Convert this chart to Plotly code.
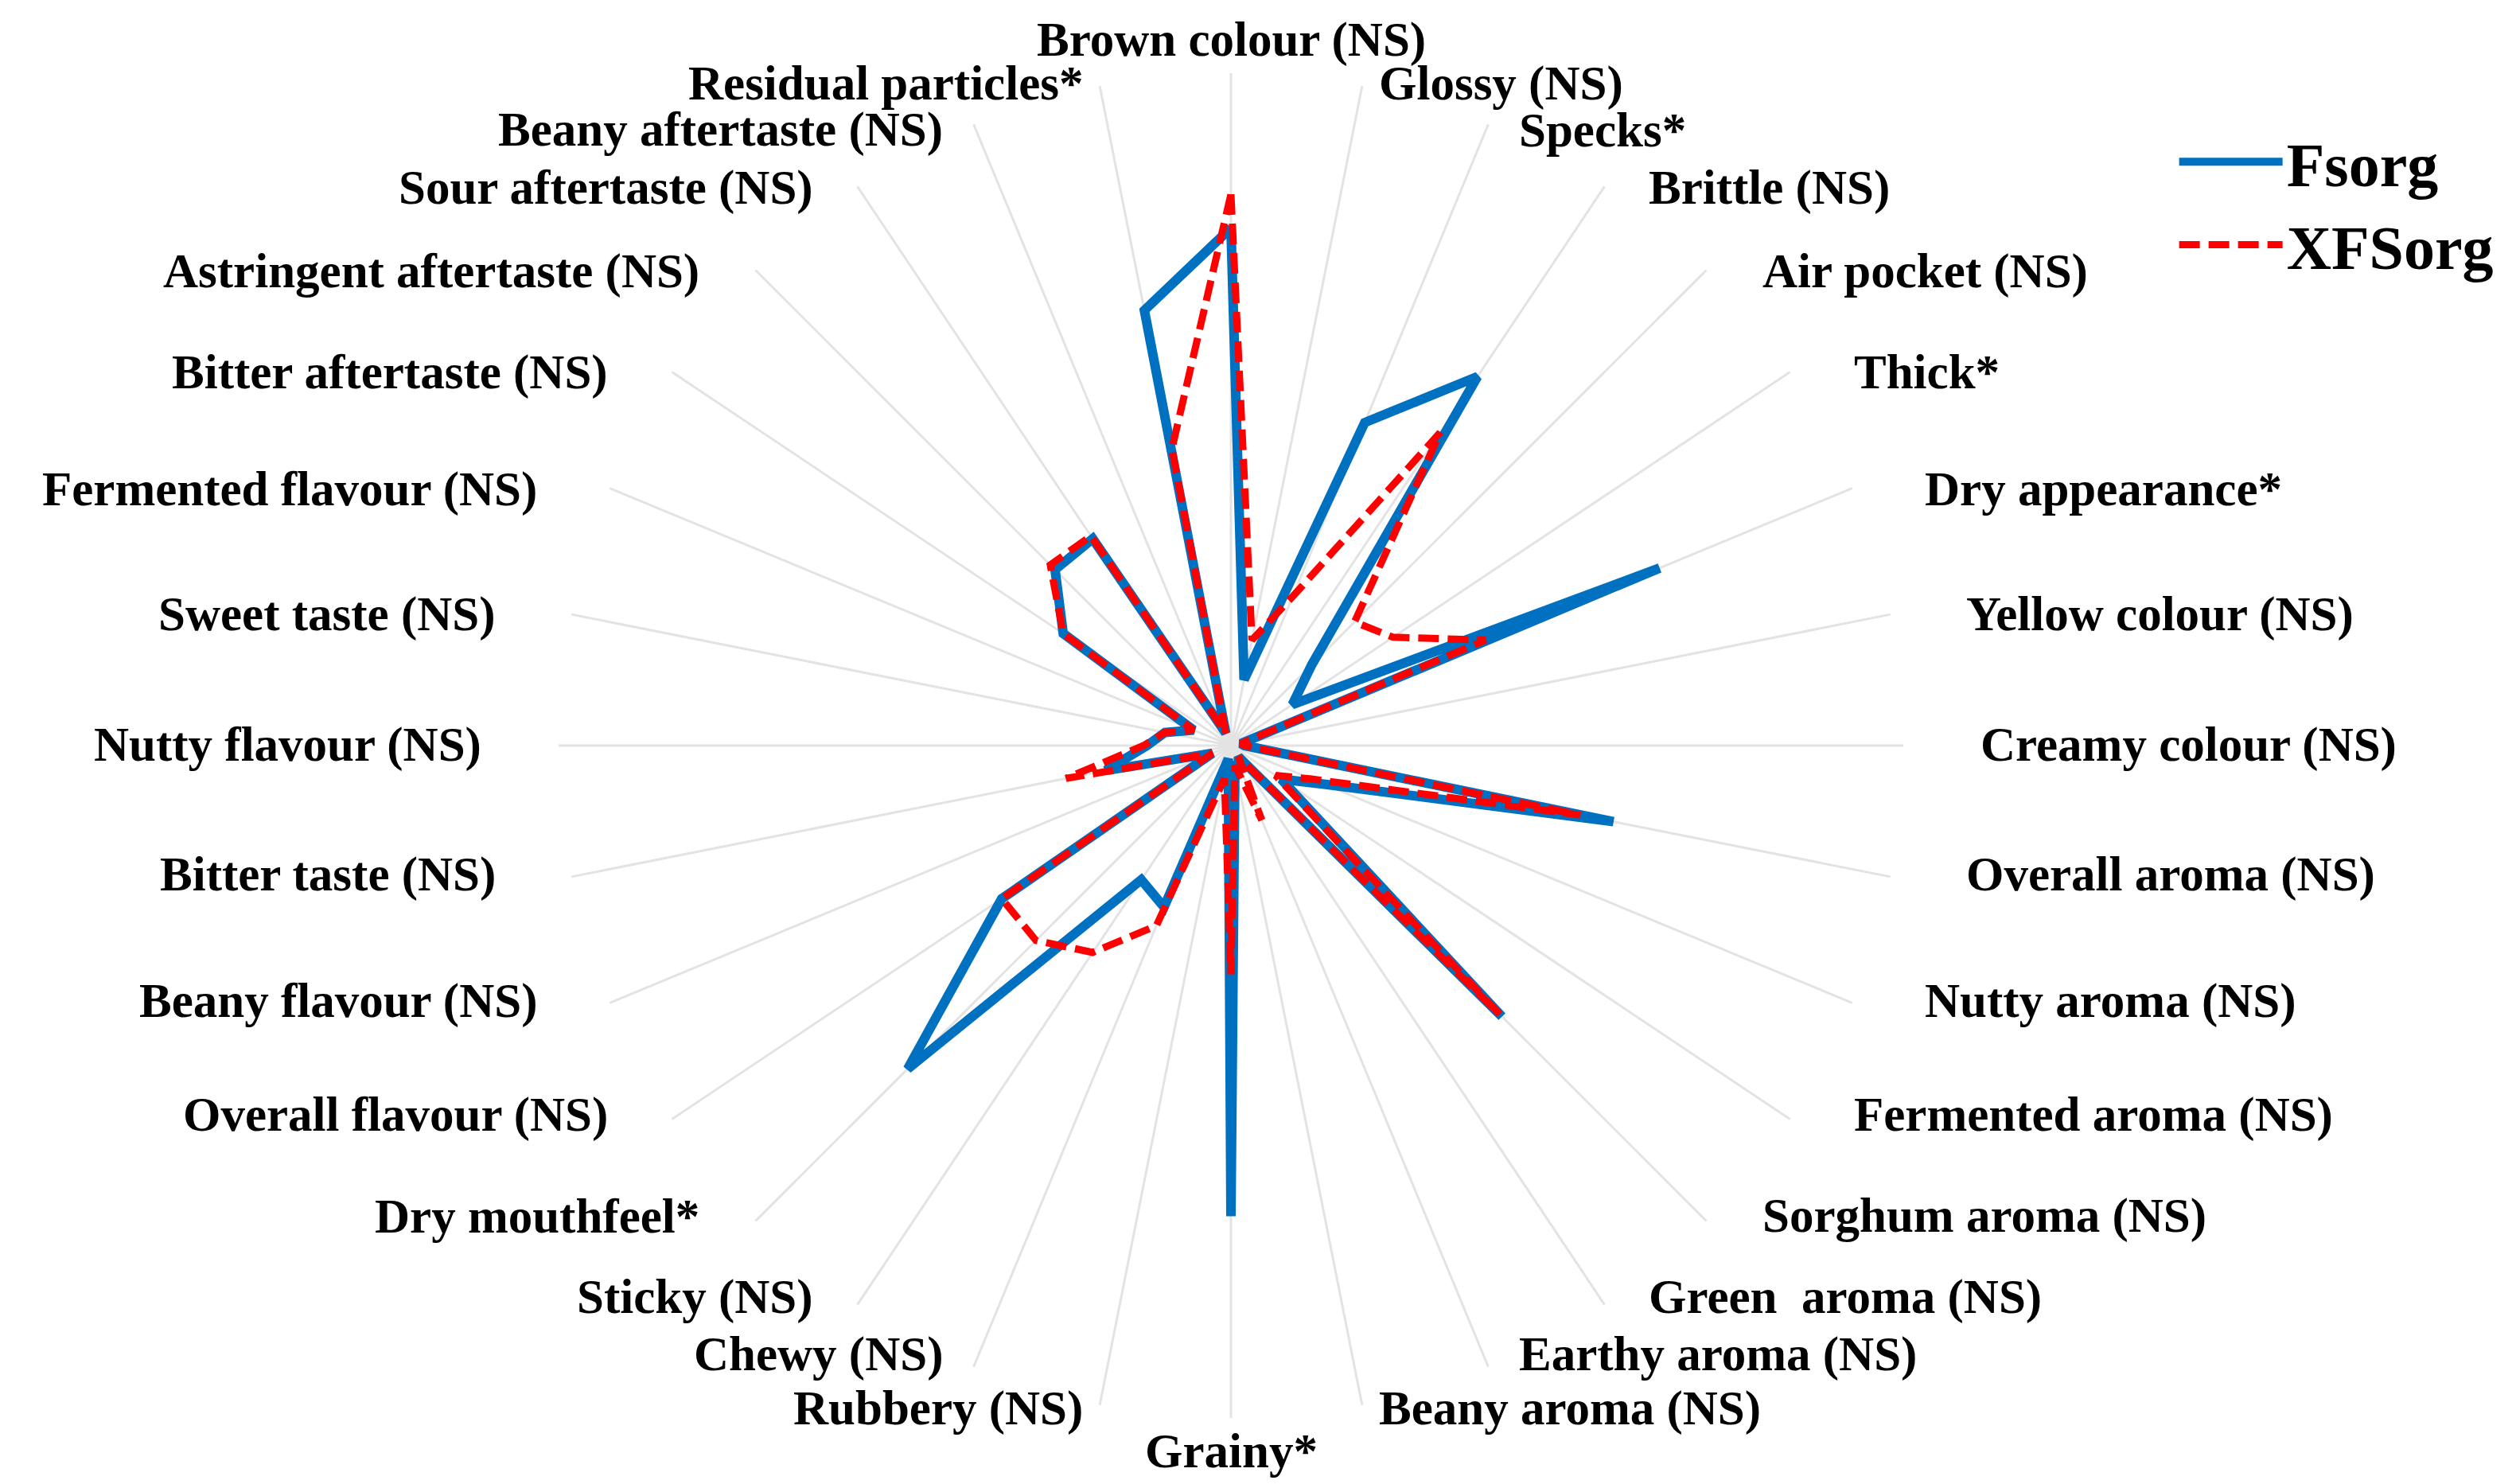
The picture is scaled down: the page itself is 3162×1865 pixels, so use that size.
import plotly.graph_objects as go

categories = [
    "Brown colour (NS)", "Glossy (NS)", "Specks*", "Brittle (NS)", "Air pocket (NS)",
    "Thick*", "Dry appearance*", "Yellow colour (NS)", "Creamy colour (NS)",
    "Overall aroma (NS)", "Nutty aroma (NS)", "Fermented aroma (NS)", "Sorghum aroma (NS)",
    "Green  aroma (NS)", "Earthy aroma (NS)", "Beany aroma (NS)", "Grainy*", "Rubbery (NS)",
    "Chewy (NS)", "Sticky (NS)", "Dry mouthfeel*", "Overall flavour (NS)", "Beany flavour (NS)",
    "Bitter taste (NS)", "Nutty flavour (NS)", "Sweet taste (NS)", "Fermented flavour (NS)",
    "Bitter aftertaste (NS)", "Astringent aftertaste (NS)", "Sour aftertaste (NS)",
    "Beany aftertaste (NS)", "Residual particles*",
]

fsorg = [7.7, 1.0, 5.2, 6.6, 1.7, 1.1, 6.9, 0.15, 0.2, 5.8, 1.5, 0.9, 5.7, 0.2, 0.3, 0.3,
         7.0, 0.2, 2.6, 2.4, 6.8, 4.1, 0.3, 1.9, 1.25, 1.0, 0.6, 3.0, 3.7, 3.7, 0.2, 6.6]
xfsorg = [8.2, 1.6, 2.4, 5.6, 2.6, 2.9, 4.1, 0.15, 0.2, 5.3, 1.3, 0.8, 5.65, 0.2, 1.2, 0.3,
          3.4, 0.5, 2.9, 3.7, 4.1, 4.1, 0.3, 2.5, 1.3, 1.0, 0.6, 3.0, 3.8, 3.75, 0.2, 4.5]

series_names = ["Fsorg", "XFSorg"]

# ---- layout (pixels of the 3162x1865 page) ----
W, H = 3162, 1865
cx, cy, R = 1539, 929, 845

# Category label placement (layout only): horizontal offset of the label's inner
# edge from the chart centre, and vertical pixel position, for the right half
# (Brown colour .. Grainy*); the left half mirrors it.
right_dx = [0, 185, 361, 524, 667, 782, 871, 923, 941, 923, 871, 782, 667, 524, 361, 185, 0]
right_y = [42, 97, 155, 228, 333, 460, 607, 764, 928, 1091, 1250, 1393, 1520, 1622, 1694, 1762, 1815]

fig = go.Figure()
fig.add_trace(go.Scatterpolar(
    r=fsorg + fsorg[:1], theta=categories + categories[:1],
    mode="lines", name=series_names[0],
    line=dict(color="#0070C0", width=12),
))
fig.add_trace(go.Scatterpolar(
    r=xfsorg + xfsorg[:1], theta=categories + categories[:1],
    mode="lines", name=series_names[1],
    line=dict(color="#FF0000", width=9, dash="26px,11px"),
))

label_font = dict(family="Liberation Serif", size=61, color="black", weight="bold")
annotations = []
n = len(categories)
for i, name in enumerate(categories):
    if i <= n // 2:
        dx, y = right_dx[i], right_y[i]
        side = 1
    else:
        j = n - i
        dx, y = right_dx[j], right_y[j]
        side = -1
    if dx == 0:
        xanchor, x = "center", cx
    elif side == 1:
        xanchor, x = "left", cx + dx
    else:
        xanchor, x = "right", cx - dx
    annotations.append(dict(
        text=name, x=x / W, y=1 - y / H, xref="paper", yref="paper",
        xanchor=xanchor, yanchor="middle", showarrow=False, font=label_font,
        borderpad=0,
    ))

fig.update_layout(
    width=W, height=H, autosize=False,
    margin=dict(l=0, r=0, t=0, b=0),
    paper_bgcolor="white", plot_bgcolor="white",
    font=dict(family="Liberation Serif", color="black"),
    polar=dict(
        domain=dict(x=[(cx - R) / W, (cx + R) / W], y=[(H - cy - R) / H, (H - cy + R) / H]),
        bgcolor="white",
        radialaxis=dict(visible=False, range=[0, 10]),
        angularaxis=dict(
            type="category", categoryorder="array", categoryarray=categories,
            rotation=90, direction="clockwise",
            showline=False, ticks="", showgrid=True, showticklabels=False,
            gridcolor="#e3e3e3", gridwidth=3,
        ),
    ),
    annotations=annotations,
    showlegend=True,
    legend=dict(
        x=0.862, y=0.926, xanchor="left", yanchor="top",
        font=dict(family="Liberation Serif", size=78, color="black", weight="bold"),
        itemwidth=130, bgcolor="rgba(0,0,0,0)", tracegroupgap=0,
    ),
)

fig.write_html("out.html")
